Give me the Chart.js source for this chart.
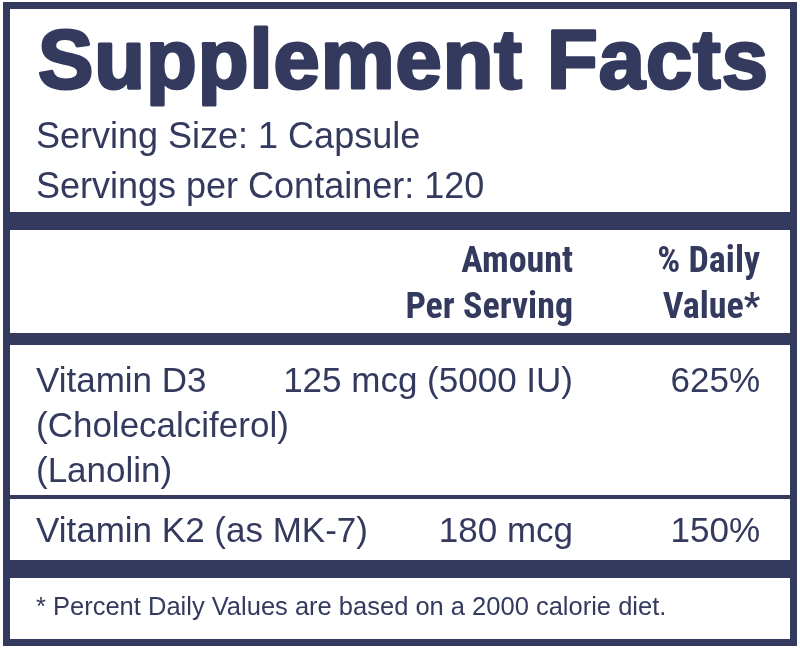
<!DOCTYPE html>
<html><head><meta charset="utf-8">
<script src="https://cdn.jsdelivr.net/npm/chart.js"></script>
<style>html,body{margin:0;padding:0;background:#fff}#wrap{width:800px;height:648px}</style>
</head><body><div id="wrap"><canvas id="c" width="800" height="648"></canvas></div>
<script>
const title = "Supplement Facts";
const servingLines = ["Serving Size: 1 Capsule", "Servings per Container: 120"];
const headerAmount = ["Amount", "Per Serving"];
const headerDV = ["% Daily", "Value*"];
const nutrients = [["Vitamin D3", "(Cholecalciferol)", "(Lanolin)"], ["Vitamin K2 (as MK-7)"]];
const amounts = ["125 mcg (5000 IU)", "180 mcg"];
const dailyValues = ["625%", "150%"];
const footnote = "* Percent Daily Values are based on a 2000 calorie diet.";

const NAVY = "#343a5e";
const labelPlugin = {
  id: 'label',
  afterDraw(chart) {
    const ctx = chart.ctx;
    ctx.save();
    ctx.fillStyle = "#fff"; ctx.fillRect(0,0,800,648);
    ctx.fillStyle = NAVY; ctx.strokeStyle = NAVY;
    ctx.lineWidth = 7; ctx.strokeRect(6.5, 5.5, 787, 637);
    ctx.fillRect(6, 212, 788, 18);
    ctx.fillRect(6, 333, 788, 12);
    ctx.fillRect(6, 495, 788, 4);
    ctx.fillRect(6, 560, 788, 18);
    ctx.textBaseline = "alphabetic";
    ctx.textAlign = "left";
    ctx.font = "bold 83px 'Liberation Sans', Arial, sans-serif";
    if ('letterSpacing' in ctx) ctx.letterSpacing = "1px";
    ctx.lineWidth = 3; ctx.lineJoin = "round";
    ctx.fillText(title, 38, 88);
    ctx.strokeText(title, 38, 88);
    if ('letterSpacing' in ctx) ctx.letterSpacing = "0px";
    ctx.font = "36px 'Liberation Sans', Arial, sans-serif";
    ctx.fillText(servingLines[0], 36, 148);
    ctx.fillText(servingLines[1], 36, 198);
    ctx.font = "bold 36px 'Liberation Sans Narrow', 'Roboto Condensed', 'Liberation Sans', sans-serif";
    ctx.textAlign = "right";
    ctx.fillText(headerAmount[0], 573, 272);
    ctx.fillText(headerAmount[1], 573, 318);
    ctx.fillText(headerDV[0], 760, 272);
    ctx.fillText(headerDV[1], 760, 318);
    ctx.font = "35px 'Liberation Sans', Arial, sans-serif";
    const rowTops = [392, 542];
    nutrients.forEach((lines, i) => {
      ctx.textAlign = "left";
      lines.forEach((l, j) => ctx.fillText(l, 36, rowTops[i] + j * 45));
      ctx.textAlign = "right";
      ctx.fillText(amounts[i], 573, rowTops[i]);
      ctx.fillText(dailyValues[i], 760, rowTops[i]);
    });
    ctx.textAlign = "left";
    ctx.font = "25.5px 'Liberation Sans', Arial, sans-serif";
    ctx.fillText(footnote, 36, 615);
    ctx.restore();
  }
};
new Chart(document.getElementById('c'), {
  type: 'bar',
  data: { labels: amounts, datasets: [{ data: [], label: title }] },
  options: {
    responsive: false, animation: false,
    plugins: { legend: { display: false }, tooltip: { enabled: false } },
    scales: { x: { display: false }, y: { display: false } }
  },
  plugins: [labelPlugin]
});
</script></body></html>
